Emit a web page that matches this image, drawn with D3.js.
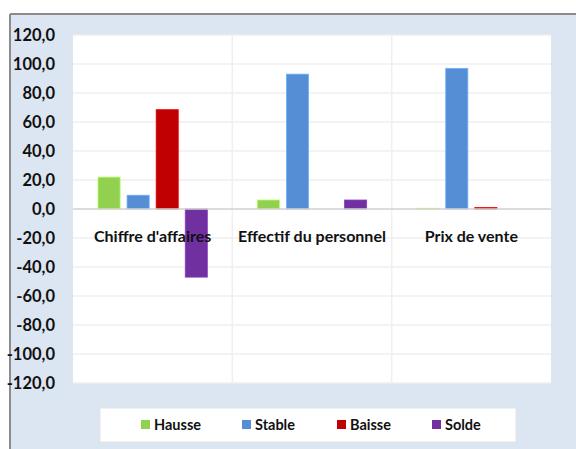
<!DOCTYPE html>
<html>
<head>
<meta charset="utf-8">
<script src="https://cdn.jsdelivr.net/npm/d3@7"></script>
<style>
  body { margin: 0; background: #fff; }
  svg { display: block; font-family: Lato, "Open Sans", sans-serif; }
</style>
</head>
<body>
<div id="chart"></div>
<script>
// data
var categories = ["Chiffre d'affaires", "Effectif du personnel", "Prix de vente"];
var series = ["Hausse", "Stable", "Baisse", "Solde"];
var hausse = [22.0, 6.2, 0.5];
var stable = [9.5, 93.0, 97.0];
var baisse = [68.5, 0.0, 1.0];
var solde  = [-47.0, 6.2, 0.0];
var yTicks = [120, 100, 80, 60, 40, 20, 0, -20, -40, -60, -80, -100, -120];

var colors = ["#92d050", "#558ed5", "#c00000", "#7030a0"];
var values = [hausse, stable, baisse, solde];

var W = 576, H = 449;
var margin = {top: 35, right: 25, bottom: 66, left: 73},
    width = 551 - margin.left,
    height = 383 - margin.top;

var svg = d3.select("#chart")
  .append("svg")
    .attr("width", W)
    .attr("height", H);

// outer frame
svg.append("rect")
  .attr("x", 10).attr("y", 14)
  .attr("width", W).attr("height", H)
  .attr("fill", "#dce6f2");
svg.append("line")
  .attr("x1", 10).attr("x2", W).attr("y1", 14).attr("y2", 14)
  .attr("stroke", "#8c8c8c").attr("stroke-width", 2);
svg.append("line")
  .attr("x1", 10).attr("x2", 10).attr("y1", 14).attr("y2", H)
  .attr("stroke", "#8c8c8c").attr("stroke-width", 2);

var g = svg.append("g")
  .attr("transform", "translate(" + margin.left + "," + margin.top + ")");

g.append("rect")
  .attr("width", width).attr("height", height)
  .attr("fill", "#fff");

var x = d3.scaleBand()
  .domain(categories)
  .range([0, width]);

var x1 = d3.scaleBand()
  .domain(series)
  .range([25, x.bandwidth() - 25])
  .paddingInner(0.24);

var y = d3.scaleLinear()
  .domain([-120, 120])
  .range([height, 0]);

// horizontal grid
g.selectAll(".hgrid")
  .data(yTicks.filter(function(d) { return d !== 0; }))
  .enter().append("line")
    .attr("x1", 0).attr("x2", width)
    .attr("y1", function(d) { return y(d); })
    .attr("y2", function(d) { return y(d); })
    .attr("stroke", "#efefef").attr("stroke-width", 1.5);

// vertical grid between categories
g.selectAll(".vgrid")
  .data(categories.slice(1))
  .enter().append("line")
    .attr("x1", function(d) { return x(d); })
    .attr("x2", function(d) { return x(d); })
    .attr("y1", 0).attr("y2", height)
    .attr("stroke", "#efefef").attr("stroke-width", 1.5);

// bars
var groups = g.selectAll(".grp")
  .data(categories)
  .enter().append("g")
    .attr("transform", function(d) { return "translate(" + x(d) + ",0)"; });

groups.selectAll("rect")
  .data(function(d, i) {
    return series.map(function(s, j) { return {s: s, v: values[j][i], c: colors[j]}; });
  })
  .enter().append("rect")
    .attr("x", function(d) { return x1(d.s); })
    .attr("width", x1.bandwidth())
    .attr("y", function(d) { return y(Math.max(0, d.v)); })
    .attr("height", function(d) { return Math.abs(y(d.v) - y(0)); })
    .attr("fill", function(d) { return d.c; })
    .attr("stroke", function(d) { return d3.color(d.c).brighter(0.6); })
    .attr("stroke-width", 0.8);

// zero line
g.append("line")
  .attr("x1", 0).attr("x2", width)
  .attr("y1", y(0)).attr("y2", y(0))
  .attr("stroke", "#d0d0d0").attr("stroke-width", 1.5);

// category labels
g.selectAll(".cat")
  .data(categories)
  .enter().append("text")
    .attr("x", function(d) { return x(d) + x.bandwidth() / 2; })
    .attr("y", y(0) + 33)
    .attr("text-anchor", "middle")
    .attr("font-size", 16)
    .attr("font-weight", "bold")
    .attr("fill", "#111")
    .text(function(d) { return d; });

// y axis labels
var fmt = function(d) { return d3.format(".1f")(d).replace(".", ",").replace("−", "-"); };
g.append("g")
  .attr("transform", "translate(-15,0)")
  .call(d3.axisLeft(y).tickValues(yTicks).tickFormat(fmt).tickSize(0))
  .call(function(a) { a.select(".domain").remove(); })
  .selectAll("text")
    .attr("font-size", 16.5)
    .attr("font-weight", "bold")
    .attr("fill", "#111")
    .attr("font-family", "Lato, sans-serif");

// legend
var legend = svg.append("g").attr("transform", "translate(100,408)");
legend.append("rect")
  .attr("width", 416).attr("height", 34)
  .attr("fill", "#fff").attr("stroke", "#e3e3e3");

var legX = [41, 142, 237, 332];
var items = legend.selectAll(".leg")
  .data(series)
  .enter().append("g")
    .attr("transform", function(d, i) { return "translate(" + legX[i] + ",12)"; });
items.append("rect")
  .attr("width", 9).attr("height", 9)
  .attr("fill", function(d, i) { return colors[i]; });
items.append("text")
  .attr("x", 13).attr("y", 10)
  .attr("font-size", 14.5)
  .attr("font-weight", "bold")
  .attr("fill", "#111")
  .text(function(d) { return d; });
</script>
</body>
</html>
